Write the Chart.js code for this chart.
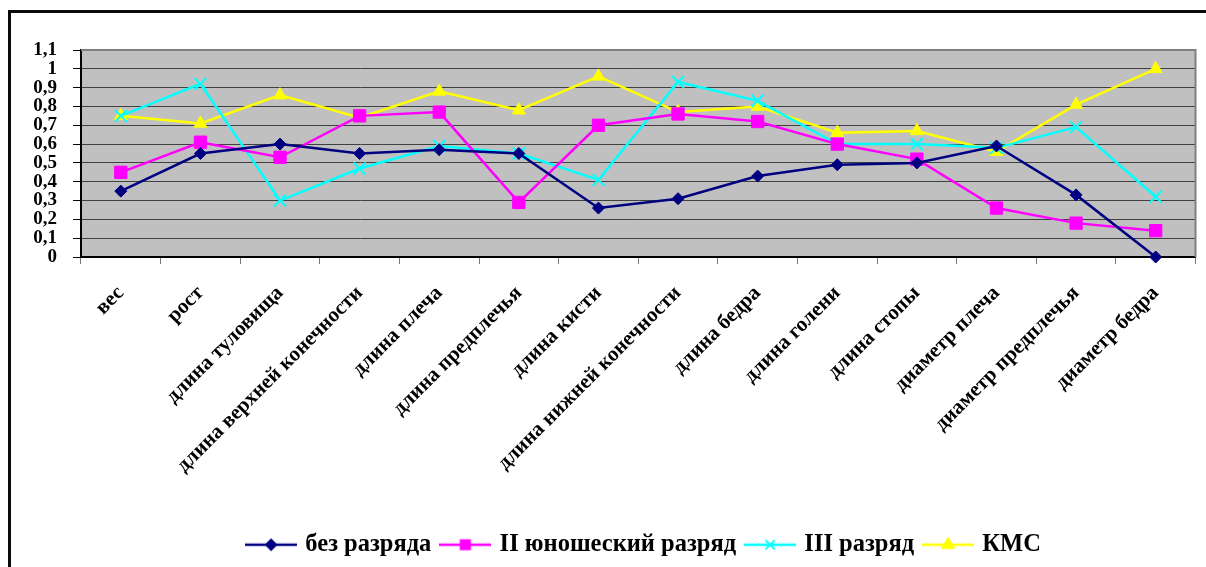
<!DOCTYPE html>
<html>
<head>
<meta charset="utf-8">
<script src="https://cdn.jsdelivr.net/npm/chart.js@4/dist/chart.umd.min.js"></script>
<style>
  html, body { margin: 0; padding: 0; background: #fff; overflow: hidden; width: 1206px; height: 567px; }
  #frame { position: absolute; left: 8px; top: 10px; width: 1400px; height: 800px; border: 3px solid #0a0a0a; box-sizing: border-box; }
  #c { position: absolute; left: 0; top: 0; }
</style>
</head>
<body>
<div id="frame"></div>
<canvas id="c" width="1206" height="567"></canvas>
<script>
const categories = ['вес', 'рост', 'длина туловища', 'длина верхней конечности', 'длина плеча', 'длина предплечья', 'длина кисти', 'длина нижней конечности', 'длина бедра', 'длина голени', 'длина стопы', 'диаметр плеча', 'диаметр предплечья', 'диаметр бедра'];
const seriesNames = ['без разряда', 'II юношеский разряд', 'III разряд', 'КМС'];
const bezRazryada = [0.35, 0.55, 0.60, 0.55, 0.57, 0.55, 0.26, 0.31, 0.43, 0.49, 0.50, 0.59, 0.33, 0.00];
const yunosheskiy = [0.45, 0.61, 0.53, 0.75, 0.77, 0.29, 0.70, 0.76, 0.72, 0.60, 0.52, 0.26, 0.18, 0.14];
const tretiyRazryad = [0.75, 0.92, 0.30, 0.47, 0.59, 0.55, 0.41, 0.93, 0.83, 0.60, 0.60, 0.58, 0.69, 0.32];
const kms = [0.75, 0.71, 0.86, 0.74, 0.88, 0.78, 0.96, 0.77, 0.80, 0.66, 0.67, 0.56, 0.81, 1.00];
const yTickValues = [0, 0.1, 0.2, 0.3, 0.4, 0.5, 0.6, 0.7, 0.8, 0.9, 1, 1.1];
const yTickLabels = ['0', '0,1', '0,2', '0,3', '0,4', '0,5', '0,6', '0,7', '0,8', '0,9', '1', '1,1'];

const FONT = '"Times New Roman", "Liberation Serif", serif';
const PLOT_LEFT = 81, PLOT_BOTTOM = 257, PLOT_TOP = 50;

const styles = [
  { color: '#000080', point: 'rectRot', radius: 6, legendRadius: 5 },
  { color: '#FF00FF', point: 'rect', radius: 8.7, legendRadius: 6.5 },
  { color: '#00FFFF', point: 'crossRot', radius: 8.5, legendRadius: 6.5 },
  { color: '#FFFF00', point: 'triangle', radius: 7.5, legendRadius: 6.5 }
];
const values = [bezRazryada, yunosheskiy, tretiyRazryad, kms];

function legendIcon(s) {
  const cv = document.createElement('canvas');
  cv.width = 52; cv.height = 16;
  const ctx = cv.getContext('2d');
  ctx.strokeStyle = s.color; ctx.lineWidth = 2.5;
  ctx.beginPath(); ctx.moveTo(0, 8); ctx.lineTo(52, 8); ctx.stroke();
  ctx.fillStyle = s.color; ctx.strokeStyle = s.color; ctx.lineWidth = 2;
  if (Chart.helpers && Chart.helpers.drawPoint) {
    Chart.helpers.drawPoint(ctx, { pointStyle: s.point, radius: s.legendRadius, rotation: 0, borderWidth: 2 }, 26, 8);
  }
  return cv;
}

const datasets = values.map((v, i) => ({
  label: seriesNames[i],
  data: v,
  borderColor: styles[i].color,
  backgroundColor: styles[i].color,
  borderWidth: 2.5,
  pointStyle: styles[i].point,
  pointRadius: styles[i].radius,
  pointBorderWidth: styles[i].point === 'crossRot' ? 2 : 1,
  pointBackgroundColor: styles[i].color,
  pointBorderColor: styles[i].color,
  tension: 0,
  clip: false
}));

const plotBg = {
  id: 'plotBg',
  beforeDraw(chart) {
    const a = chart.chartArea, ctx = chart.ctx;
    ctx.save();
    ctx.fillStyle = '#C0C0C0';
    ctx.fillRect(a.left, a.top, a.right - a.left, a.bottom - a.top);
    ctx.restore();
  },
  beforeDatasetsDraw(chart) {
    const a = chart.chartArea, ctx = chart.ctx;
    ctx.save();
    ctx.strokeStyle = '#808080'; ctx.lineWidth = 2;
    ctx.beginPath();
    ctx.moveTo(a.left, a.top); ctx.lineTo(a.right, a.top); ctx.lineTo(a.right, a.bottom);
    ctx.stroke();
    ctx.restore();
  },
  afterLayout(chart) {
    if (chart.legend) { chart.legend.left += 44; chart.legend.right += 44; }
  }
};

new Chart(document.getElementById('c'), {
  type: 'line',
  data: { labels: categories, datasets },
  plugins: [plotBg],
  options: {
    responsive: false,
    animation: false,
    layout: { padding: { top: PLOT_TOP, left: 0, right: 4, bottom: 0 } },
    plugins: {
      tooltip: { enabled: false },
      legend: {
        position: 'bottom',
        labels: {
          font: { family: FONT, size: 24.5, weight: 'bold' },
          color: '#000',
          padding: 12,
          usePointStyle: true,
          pointStyleWidth: 44,
          generateLabels(chart) {
            return chart.data.datasets.map((d, i) => ({
              text: d.label,
              pointStyle: legendIcon(styles[i]),
              fillStyle: styles[i].color,
              strokeStyle: styles[i].color,
              lineWidth: 0,
              hidden: false,
              datasetIndex: i,
              fontColor: '#000'
            }));
          }
        }
      }
    },
    scales: {
      x: {
        offset: true,
        grid: { display: true, drawOnChartArea: false, drawTicks: true, tickLength: 7, tickColor: '#777', offset: true },
        border: { display: true, color: '#000', width: 2 },
        ticks: {
          autoSkip: false, minRotation: 45, maxRotation: 45, padding: 17,
          color: '#000', font: { family: FONT, size: 21, weight: 'bold' }
        },
        afterFit(scale) {
          const lh = scale.chart.legend ? scale.chart.legend.height : 40;
          scale.height = scale.chart.height - lh - PLOT_BOTTOM;
        }
      },
      y: {
        min: 0, max: 1.1,
        grid: { color: '#404040', lineWidth: 1, drawTicks: true, tickLength: 8, tickColor: '#000' },
        border: { display: true, color: '#000', width: 2 },
        ticks: {
          autoSkip: false, padding: 16, color: '#000',
          font: { family: FONT, size: 19, weight: 'bold' },
          callback: (v, i) => yTickLabels[i]
        },
        afterBuildTicks(scale) { scale.ticks = yTickValues.map(v => ({ value: v })); },
        afterFit(scale) { scale.width = PLOT_LEFT; }
      }
    }
  }
});
</script>
</body>
</html>
